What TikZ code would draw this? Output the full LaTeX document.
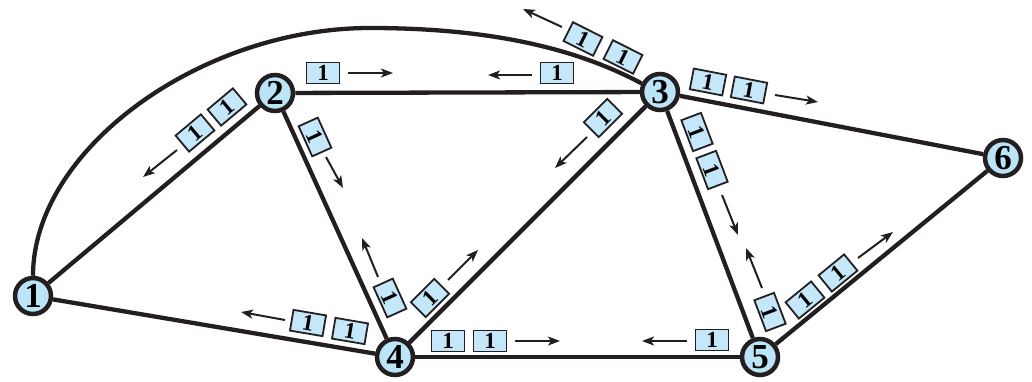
\documentclass[tikz,border=0pt]{standalone}
\usepackage{fontspec}
\setmainfont{Liberation Serif}
\usetikzlibrary{arrows.meta}
\definecolor{ink}{RGB}{35,31,32}
\definecolor{nodefill}{RGB}{188,228,247}
\definecolor{pktfill}{RGB}{196,232,249}
\tikzset{
  router/.style={circle, draw=ink, line width=4.5pt, fill=nodefill, minimum size=36pt, inner sep=0pt,
    font=\fontsize{35}{35}\selectfont\bfseries},
  link/.style={draw=ink, line width=4.3pt},
  pkt/.style={rectangle, draw=ink, line width=1.8pt, fill=pktfill, minimum width=33pt, minimum height=21pt,
    inner sep=0pt, font=\fontsize{23}{23}\selectfont\bfseries},
  flow/.style={draw=ink, line width=2pt, -{Stealth[length=12pt,width=9pt,inset=3pt]}}
}
\begin{document}
\begin{tikzpicture}[x=1pt,y=-1pt]
\path[use as bounding box] (0,0) rectangle (1032,382);
% routers
\node[router] (n1) at (33,296) {1};
\node[router] (n2) at (275,93) {2};
\node[router] (n3) at (660,92) {3};
\node[router] (n4) at (395,357) {4};
\node[router] (n5) at (760,357) {5};
\node[router] (n6) at (1003,158) {6};
% links
\coordinate (top) at (370,28);
\draw[link] (n1.north) .. controls (33,150) and (200,28) .. (top)
            .. controls (480,28) and (570,45) .. (n3.155);
\draw[link] (n1) -- (n2);
\draw[link] (n1) -- (n4);
\draw[link] (n2) -- (n3);
\draw[link] (n2) -- (n4);
\draw[link] (n3) -- (n4);
\draw[link] (n3) -- (n5);
\draw[link] (n3) -- (n6);
\draw[link] (n4) -- (n5);
\draw[link] (n5) -- (n6);
% packets and flows
% 2 -> 1
\node[pkt, rotate=40] (p1) at (195,133) {1};
\node[pkt, rotate=40] (p2) at (227,107) {1};
\draw[flow] (177,150) -- (143,177);
% 2 -> 3
\node[pkt] (p3) at (323,73) {1};
\draw[flow] (348,73) -- (393,73);
% 3 -> 2
\node[pkt] (p4) at (557,73) {1};
\draw[flow] (532,75) -- (488,75);
% 3 -> 1 (curve)
\node[pkt, rotate=-26.6] (p5) at (583,39) {1};
\node[pkt, rotate=-26.6] (p6) at (623,57) {1};
\draw[flow] (562,27) -- (523,9);
% 3 -> 6
\node[pkt, rotate=-10.9] (p7) at (708,82) {1};
\node[pkt, rotate=-10.9] (p8) at (749,90) {1};
\draw[flow] (775,95) -- (818,102);
% 3 -> 4
\node[pkt, rotate=45] (p9) at (603,118) {1};
\draw[flow] (587,137) -- (555,168);
% 3 -> 5
\node[pkt, rotate=-69.3] (p10) at (697,132) {1};
\node[pkt, rotate=-69.3] (p11) at (712,170) {1};
\draw[flow] (722,195) -- (738,235);
% 5 -> 3
\node[pkt, rotate=-69.3] (p12) at (770,312) {1};
\draw[flow] (762,288) -- (746,248);
% 5 -> 6
\node[pkt, rotate=39.3] (p13) at (805,300) {1};
\node[pkt, rotate=39.3] (p14) at (838,273) {1};
\draw[flow] (858,258) -- (893,232);
% 5 -> 4
\node[pkt] (p15) at (712,340) {1};
\draw[flow] (687,341) -- (642,341);
% 4 -> 5
\node[pkt] (p16) at (448,341) {1};
\node[pkt] (p17) at (490,341) {1};
\draw[flow] (515,341) -- (560,341);
% 4 -> 3
\node[pkt, rotate=45] (p18) at (430,298) {1};
\draw[flow] (448,280) -- (478,250);
% 4 -> 2
\node[pkt, rotate=-65.6] (p19) at (390,298) {1};
\draw[flow] (378,277) -- (362,238);
% 4 -> 1
\node[pkt, rotate=-9.6] (p20) at (308,323) {1};
\node[pkt, rotate=-9.6] (p21) at (350,331) {1};
\draw[flow] (285,320) -- (241,312);
% 2 -> 4
\node[pkt, rotate=-65.6] (p22) at (315,137) {1};
\draw[flow] (326,157) -- (343,188);
\end{tikzpicture}
\end{document}
